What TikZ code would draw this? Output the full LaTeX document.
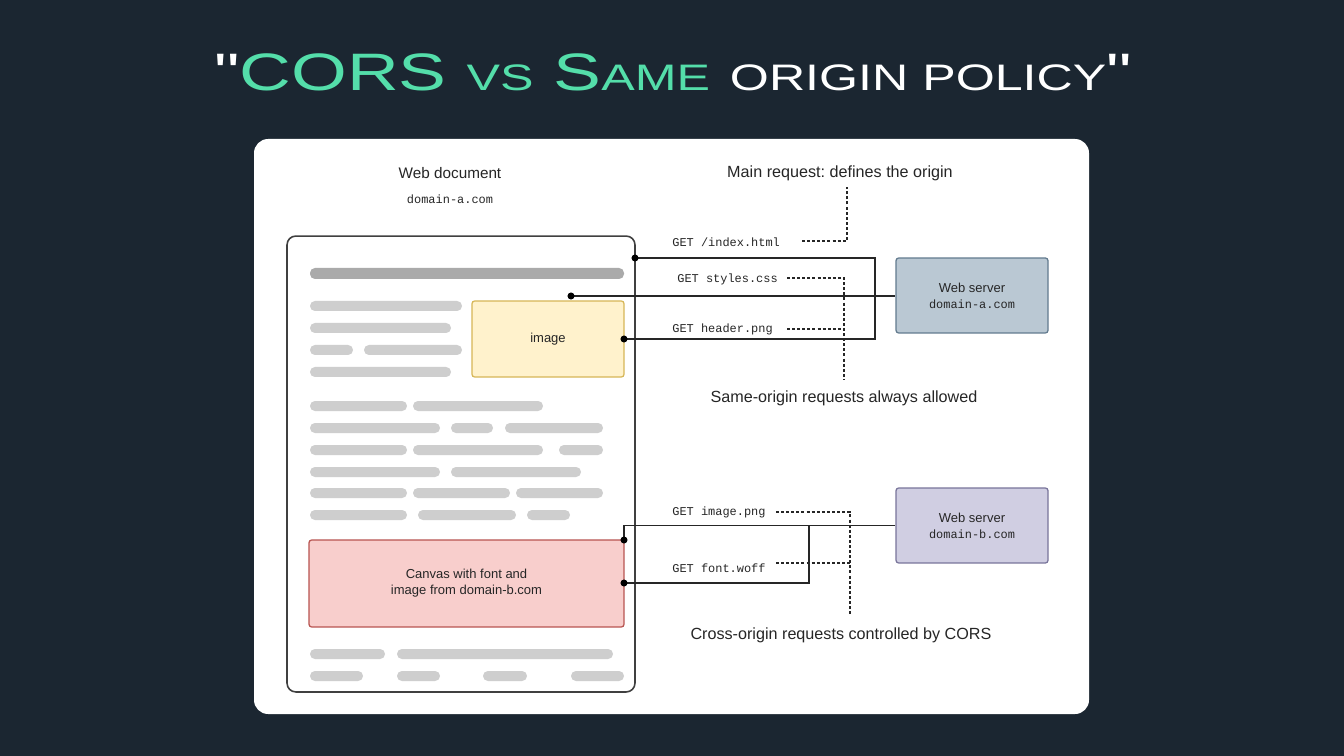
\documentclass[tikz,border=0pt]{standalone}
\usepackage{fontspec}
\setmainfont{Liberation Sans}
\setmonofont{Liberation Mono}
\newfontfamily\titlefont[Ligatures=TeXOff]{Liberation Sans}
\usetikzlibrary{positioning}
\frenchspacing

\definecolor{bgnavy}{RGB}{27,38,49}
\definecolor{mint}{RGB}{84,222,170}
\definecolor{barlight}{RGB}{206,206,206}
\definecolor{bardark}{RGB}{170,170,170}
\definecolor{imgfill}{RGB}{255,242,204}
\definecolor{imgline}{RGB}{214,182,86}
\definecolor{cvsfill}{RGB}{248,206,204}
\definecolor{cvsline}{RGB}{184,84,80}
\definecolor{srvafill}{RGB}{186,200,211}
\definecolor{srvaline}{RGB}{98,122,142}
\definecolor{srvbfill}{RGB}{208,206,226}
\definecolor{srvbline}{RGB}{120,116,154}

\newcommand{\smc}[1]{{\fontsize{21}{21}\selectfont #1}}

\tikzset{
  bar/.style={fill=barlight, rounded corners=2.8pt},
  wire/.style={draw=black!85, line width=0.8pt},
  leader/.style={draw=black!85, line width=0.6pt, dash pattern=on 1.7pt off 1.2pt},
  note/.style={inner sep=0pt, text=black!85, font=\fontsize{9.2}{11}\selectfont},
  req/.style={inner sep=0pt, anchor=west, text=black!85, font=\ttfamily\fontsize{6.8}{8}\selectfont},
  box/.style={draw, rounded corners=1.5pt, line width=0.7pt, align=center, inner sep=0pt,
    text=black!85, font=\fontsize{7.4}{9}\selectfont},
  server/.style={box, minimum width=3.04cm, minimum height=1.5cm},
}

\begin{document}
\begin{tikzpicture}[x=0.02cm, y=-0.02cm]

    % background and card
    \fill[bgnavy] (0,0) rectangle (1344,756);
    \useasboundingbox (0,0) rectangle (1344,756);
    \fill[white, rounded corners=8pt] (254,139) rectangle (1089,714);

    \node[font=\titlefont\fontsize{30}{30}\selectfont, text=white, xscale=1.36] (title) at (673,72)
        {"\textcolor{mint}{CORS \smc{VS} S\smc{AME}} \smc{ORIGIN POLICY}"};

    % the web page
    \node[note, font=\fontsize{8.7}{10}\selectfont] (webdoc) at (450,173) {Web document};
    \node[req, anchor=center] (webdom) at (450,199) {domain-a.com};
    \node[draw=black!75, line width=0.9pt, rounded corners=5pt, minimum width=6.96cm,
          minimum height=9.12cm, inner sep=0pt] (doc) at (461,464) {};

    \fill[bar, fill=bardark] (310,268) rectangle (624,279);
    \foreach \y/\a/\b in {306/310/462, 328/310/451, 350/310/353, 350/364/462, 372/310/451,
                          406/310/407, 406/413/543,
                          428/310/440, 428/451/493, 428/505/603,
                          450/310/407, 450/413/543, 450/559/603,
                          472/310/440, 472/451/581,
                          493/310/407, 493/413/510, 493/516/603,
                          515/310/407, 515/418/516, 515/527/570,
                          654/310/385, 654/397/613,
                          676/310/363, 676/397/440, 676/483/527, 676/571/624} {
        \fill[bar] (\a,\y-5) rectangle (\b,\y+5);
    }

    \node[box, draw=imgline, fill=imgfill, minimum width=3.04cm, minimum height=1.52cm] (img) at (548,339) {image};
    \node[box, draw=cvsline, fill=cvsfill, minimum width=6.3cm, minimum height=1.74cm] (cvs) at (466.5,583.5)
        {Canvas with font and\\image from domain-b.com};

    % servers
    \node[server, draw=srvaline, fill=srvafill] (srva) at (972,295.5)
        {Web server\\\ttfamily\fontsize{6.8}{8}\selectfont domain-a.com};
    \node[server, draw=srvbline, fill=srvbfill] (srvb) at (972,525.5)
        {Web server\\\ttfamily\fontsize{6.8}{8}\selectfont domain-b.com};

    % request end points
    \coordinate (dindex) at (635,258);
    \coordinate (dstyles) at (571,296);
    \coordinate (dheader) at (624,339);
    \coordinate (dimage) at (624,540);
    \coordinate (dfont) at (624,583);
    \coordinate (ja) at (875,258);
    \coordinate (jb) at (809,526);

    \draw[wire] (dindex) -- (ja) |- (dheader);
    \draw[wire] (dstyles) -- (dstyles -| srva.west);
    \draw[wire] (dimage) |- (srvb.west);
    \draw[wire] (dfont) -| (jb);
    \foreach \p in {dindex, dstyles, dheader, dimage, dfont} {
        \fill (\p) circle (2pt);
    }

    % request labels
    \node[req] (rindex) at (672,242) {GET /index.html};
    \node[req] (rstyles) at (677,279) {GET styles.css};
    \node[req] (rheader) at (672,329) {GET header.png};
    \node[req] (rimage) at (672,512) {GET image.png};
    \node[req] (rfont) at (672,568) {GET font.woff};

    % annotations
    \node[note] (nmain) at (840,173) {Main request: defines the origin};
    \node[note] (nsame) at (844,398) {Same-origin requests always allowed};
    \node[note] (ncors) at (841,635) {Cross-origin requests controlled by CORS};

    \coordinate (mtop) at (847,187);
    \coordinate (sbot) at (844,379);
    \coordinate (cbot) at (850,616);
    \draw[leader] (802,241) -| (mtop);
    \draw[leader] (787,278) -| (sbot);
    \draw[leader] (787,329) -- (sbot |- 0,329);
    \draw[leader] (776,512) -| (cbot);
    \draw[leader] (776,563) -- (cbot |- 0,563);

\end{tikzpicture}
\end{document}
